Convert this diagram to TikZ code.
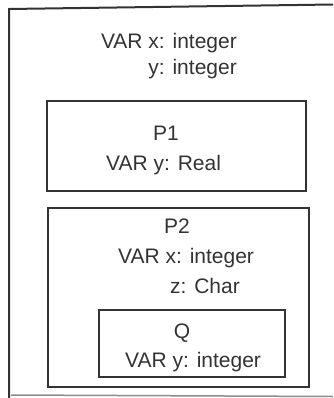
\documentclass[tikz,border=0pt]{standalone}
\usepackage{fontspec}
\setmainfont{Liberation Sans}
\definecolor{ink}{rgb}{0.2,0.2,0.2}
\definecolor{faint}{rgb}{0.55,0.55,0.55}
\begin{document}
\begin{tikzpicture}[x=1pt,y=-1pt,
  frame/.style={draw=ink,line width=2pt},
  txt/.style={inner sep=0pt,text=ink,font=\fontsize{21}{25}\selectfont}]
\useasboundingbox (0,0) rectangle (333,398);
% outer scope frame (open at right)
\coordinate (o1) at (333,4.5);
\coordinate (o2) at (9,9);
\coordinate (o3) at (9,398);
\coordinate (o4) at (11,395);
\coordinate (o5) at (333,396.5);
\draw[draw=ink,line width=2pt] (o1) -- (o2) -- (o3);
\draw[draw=faint,line width=1.5pt] (o4) -- (o5);
% main declarations
\node[txt,anchor=base east] (mx) at (237,49) {VAR x: integer};
\node[txt,anchor=base east] (my) at (237,75) {y: integer};
% P1
\draw[frame] (47,101) rectangle (306,191);
\node[txt,anchor=base] (p1) at (166,140) {P1};
\node[txt,anchor=base west] (p1y) at (106,170) {VAR y: Real};
% P2
\draw[frame] (48,208) rectangle (309,387);
\node[txt,anchor=base] (p2) at (177,233) {P2};
\node[txt,anchor=base west] (p2x) at (118,263) {VAR x: integer};
\node[txt,anchor=base west] (p2z) at (170,293) {z: Char};
% Q
\draw[frame] (99,310) rectangle (285,377);
\node[txt,anchor=base] (q) at (182,338) {Q};
\node[txt,anchor=base west] (qy) at (125,367) {VAR y: integer};
\end{tikzpicture}
\end{document}
